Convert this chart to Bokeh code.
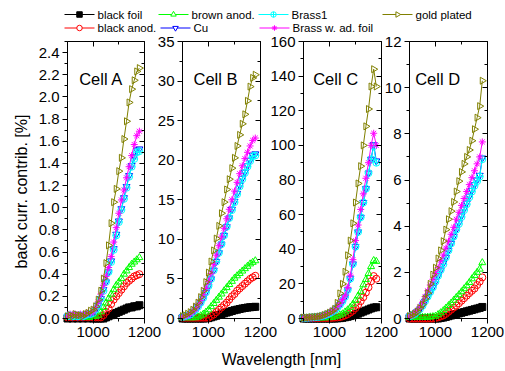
import numpy as np
from bokeh.plotting import figure
from bokeh.models import Range1d, LinearAxis, FixedTicker, Label, NumeralTickFormatter
from bokeh.embed import file_html
from bokeh.resources import INLINE
from bokeh.core.properties import value

# ---------------- data ----------------
wavelength = [900, 910, 920, 930, 940, 950, 960, 970, 980, 990, 1000, 1010, 1020, 1030, 1040,
              1050, 1060, 1070, 1080, 1090, 1100, 1110, 1120, 1130, 1140, 1150, 1160, 1170, 1180]

series_names = ["black foil", "black anod.", "brown anod.", "Cu", "Brass1", "Brass w. ad. foil", "gold plated"]
series_colors = ["#000000", "#FF0000", "#00FF00", "#0000FF", "#00FFFF", "#FF00FF", "#808000"]
series_markers = ["square", "circle", "triangle", "inverted_triangle", "circle_cross", "asterisk", "triangle"]
series_filled = [True, False, False, False, False, False, False]

cell_names = ["Cell A", "Cell B", "Cell C", "Cell D"]
y_top = [2.5, 35, 160, 12]
y_step_major = [0.2, 5, 20, 2]
y_formats = ["0.0", "0", "0", "0"]
x_major_ticks = [1000, 1200]
x_minor_ticks = [900, 1100]

# Cell A
a_black_foil = [0.00, 0.01, 0.00, 0.01, 0.00, 0.01, 0.00, 0.01, 0.00, 0.01, 0.00, 0.00, 0.00, 0.00, 0.00,
                0.01, 0.02, 0.03, 0.04, 0.05, 0.06, 0.07, 0.08, 0.09, 0.10, 0.10, 0.11, 0.11, 0.12]
a_black_anod = [0.01, 0.02, 0.01, 0.02, 0.01, 0.02, 0.01, 0.02, 0.01, 0.02, 0.01, 0.01, 0.01, 0.01, 0.03,
                0.06, 0.09, 0.13, 0.17, 0.20, 0.23, 0.26, 0.29, 0.32, 0.34, 0.36, 0.38, 0.39, 0.40]
a_brown_anod = [0.02, 0.01, 0.02, 0.01, 0.02, 0.01, 0.02, 0.01, 0.02, 0.01, 0.02, 0.02, 0.03, 0.06, 0.10,
                0.14, 0.18, 0.22, 0.26, 0.30, 0.33, 0.36, 0.40, 0.43, 0.46, 0.49, 0.51, 0.53, 0.55]
a_cu = [0.02, 0.03, 0.02, 0.03, 0.02, 0.03, 0.02, 0.03, 0.04, 0.04, 0.05, 0.08, 0.12, 0.18, 0.26,
        0.33, 0.42, 0.52, 0.63, 0.76, 0.88, 0.99, 1.09, 1.19, 1.29, 1.38, 1.46, 1.52, 1.53]
a_brass1 = [0.02, 0.03, 0.02, 0.03, 0.02, 0.03, 0.02, 0.03, 0.04, 0.04, 0.05, 0.08, 0.12, 0.18, 0.25,
            0.33, 0.42, 0.51, 0.62, 0.75, 0.87, 0.98, 1.08, 1.18, 1.28, 1.37, 1.44, 1.50, 1.51]
a_brass_foil = [0.02, 0.04, 0.03, 0.04, 0.03, 0.04, 0.03, 0.04, 0.05, 0.05, 0.06, 0.10, 0.15, 0.22, 0.30,
                0.38, 0.46, 0.56, 0.69, 0.82, 0.95, 1.07, 1.16, 1.27, 1.37, 1.47, 1.57, 1.65, 1.69]
a_gold = [0.02, 0.03, 0.02, 0.04, 0.03, 0.03, 0.02, 0.04, 0.05, 0.07, 0.08, 0.11, 0.17, 0.25, 0.36,
          0.50, 0.66, 0.86, 1.05, 1.17, 1.33, 1.45, 1.62, 1.78, 1.95, 2.07, 2.15, 2.23, 2.26]

# Cell B
b_black_foil = [0.0, 0.0, 0.0, 0.0, 0.0, 0.0, 0.0, 0.0, 0.0, 0.02, 0.05, 0.15, 0.25, 0.35, 0.45,
                0.55, 0.65, 0.75, 0.85, 0.95, 1.05, 1.12, 1.20, 1.27, 1.33, 1.38, 1.42, 1.45, 1.48]
b_black_anod = [0.1, 0.1, 0.1, 0.1, 0.1, 0.1, 0.1, 0.1, 0.1, 0.1, 0.1, 0.3, 0.5, 0.8, 1.1,
                1.4, 1.7, 2.0, 2.4, 2.8, 3.1, 3.5, 3.8, 4.1, 4.4, 4.7, 5.0, 5.2, 5.4]
b_brown_anod = [0.1, 0.1, 0.1, 0.1, 0.1, 0.1, 0.2, 0.35, 0.55, 0.8, 1.1, 1.5, 1.9, 2.3, 2.7,
                3.1, 3.5, 3.9, 4.3, 4.7, 5.1, 5.4, 5.7, 6.0, 6.3, 6.6, 6.9, 7.1, 7.3]
b_cu = [0.2, 0.3, 0.4, 0.5, 0.8, 1.1, 1.5, 2.0, 2.6, 3.3, 4.1, 5.0, 6.1, 7.2, 8.3,
        9.4, 10.5, 11.6, 12.7, 13.8, 14.8, 15.8, 16.8, 17.7, 18.5, 19.3, 20.0, 20.6, 20.8]
b_brass1 = [0.2, 0.3, 0.4, 0.5, 0.8, 1.1, 1.5, 2.0, 2.6, 3.3, 4.1, 5.0, 6.1, 7.2, 8.3,
            9.4, 10.5, 11.6, 12.7, 13.7, 14.7, 15.7, 16.7, 17.6, 18.4, 19.2, 19.9, 20.5, 20.6]
b_brass_foil = [0.2, 0.3, 0.4, 0.6, 0.9, 1.2, 1.7, 2.3, 3.0, 3.8, 4.7, 5.7, 6.8, 8.0, 9.2,
                10.3, 11.4, 12.6, 13.8, 15.0, 16.1, 17.2, 18.3, 19.3, 20.2, 21.0, 21.8, 22.5, 22.8]
b_gold = [0.3, 0.4, 0.6, 0.8, 1.1, 1.5, 2.0, 2.7, 3.5, 4.6, 5.8, 7.2, 8.6, 10.1, 11.7,
          13.3, 14.7, 16.3, 17.6, 19.0, 20.3, 21.8, 23.2, 24.6, 25.8, 27.5, 29.3, 30.4, 30.8]

# Cell C
c_black_foil = [0.0, 0.0, 0.0, 0.0, 0.0, 0.0, 0.0, 0.0, 0.0, 0.0, 0.0, 0.0, 0.0, 0.1, 0.2,
                0.4, 0.7, 1.0, 1.4, 1.8, 2.3, 2.8, 3.4, 4.0, 4.6, 5.2, 5.8, 6.3, 6.5]
c_black_anod = [0.3, 0.3, 0.3, 0.3, 0.3, 0.3, 0.3, 0.3, 0.3, 0.3, 0.3, 0.4, 0.5, 0.6, 0.8,
                1.2, 1.8, 2.5, 3.4, 4.5, 6.0, 7.8, 10.0, 12.3, 15.0, 18.0, 21.5, 24.5, 23.0]
c_brown_anod = [0.3, 0.3, 0.3, 0.3, 0.3, 0.3, 0.3, 0.4, 0.4, 0.5, 0.5, 0.7, 1.0, 1.5, 2.0,
                2.7, 3.8, 5.0, 6.5, 8.3, 10.5, 13.0, 15.5, 19.5, 22.5, 26.0, 30.0, 33.5, 33.0]
c_cu = [0.3, 0.4, 0.5, 0.6, 0.7, 0.9, 1.1, 1.4, 1.8, 2.3, 3.0, 3.8, 4.8, 6.2, 7.9,
        10.0, 12.5, 16.5, 23.0, 31.5, 41.5, 50.0, 58.5, 67.0, 75.0, 84.0, 92.0, 100.5, 91.0]
c_brass1 = [0.3, 0.4, 0.5, 0.6, 0.7, 0.9, 1.1, 1.4, 1.8, 2.3, 3.0, 3.8, 4.8, 6.2, 7.9,
            10.0, 12.5, 16.5, 23.0, 31.5, 41.5, 50.0, 58.5, 67.0, 75.0, 84.0, 92.0, 99.5, 90.0]
c_brass_foil = [0.4, 0.5, 0.6, 0.7, 0.8, 1.0, 1.2, 1.5, 2.0, 2.6, 3.3, 4.2, 5.3, 6.8, 8.6,
                11.0, 13.5, 18.0, 25.0, 34.0, 45.0, 54.0, 63.0, 72.0, 81.0, 90.0, 100.0, 107.0, 100.0]
c_gold = [0.5, 0.5, 0.6, 0.8, 0.9, 1.0, 1.2, 1.5, 2.0, 2.6, 3.3, 4.2, 5.5, 9.0, 14.5,
          20.0, 27.0, 36.5, 45.0, 55.0, 67.0, 78.0, 88.0, 100.0, 111.0, 121.0, 134.0, 144.0, 134.0]

# Cell D
d_black_foil = [0.0, 0.0, 0.0, 0.0, 0.0, 0.0, 0.0, 0.0, 0.0, 0.0, 0.0, 0.0, 0.02, 0.04, 0.07,
                0.10, 0.13, 0.16, 0.19, 0.22, 0.25, 0.28, 0.31, 0.34, 0.37, 0.40, 0.43, 0.46, 0.50]
d_black_anod = [0.0, 0.0, 0.0, 0.0, 0.0, 0.0, 0.0, 0.0, 0.0, 0.0, 0.02, 0.05, 0.09, 0.13, 0.20,
                0.29, 0.38, 0.47, 0.56, 0.66, 0.77, 0.88, 0.99, 1.10, 1.20, 1.30, 1.45, 1.60, 1.78]
d_brown_anod = [0.05, 0.05, 0.05, 0.05, 0.05, 0.05, 0.05, 0.06, 0.07, 0.08, 0.10, 0.17, 0.25, 0.34, 0.45,
                0.56, 0.67, 0.79, 0.91, 1.03, 1.16, 1.29, 1.42, 1.56, 1.72, 1.86, 2.00, 2.14, 2.42]
d_cu = [0.1, 0.15, 0.2, 0.3, 0.4, 0.55, 0.75, 0.95, 1.15, 1.35, 1.6, 1.85, 2.1, 2.4, 2.65,
        2.95, 3.25, 3.55, 3.85, 4.15, 4.45, 4.75, 5.0, 5.3, 5.55, 5.8, 6.0, 6.2, 6.95]
d_brass1 = [0.1, 0.15, 0.2, 0.3, 0.4, 0.55, 0.75, 0.95, 1.15, 1.35, 1.6, 1.85, 2.1, 2.35, 2.65,
            2.95, 3.25, 3.55, 3.85, 4.1, 4.4, 4.7, 4.95, 5.25, 5.5, 5.75, 5.95, 6.15, 6.9]
d_brass_foil = [0.1, 0.15, 0.25, 0.35, 0.5, 0.7, 0.95, 1.2, 1.45, 1.7, 1.95, 2.2, 2.5, 2.75, 3.05,
                3.35, 3.65, 3.95, 4.3, 4.6, 4.9, 5.2, 5.5, 5.8, 6.1, 6.4, 6.7, 7.0, 7.65]
d_gold = [0.1, 0.15, 0.2, 0.3, 0.45, 0.6, 0.85, 1.1, 1.5, 1.9, 2.2, 2.6, 2.95, 3.35, 3.85,
          4.3, 4.65, 5.05, 5.5, 5.95, 6.35, 6.7, 7.0, 7.3, 7.7, 8.2, 8.7, 9.2, 10.3]

cell_data = [
    [a_black_foil, a_black_anod, a_brown_anod, a_cu, a_brass1, a_brass_foil, a_gold],
    [b_black_foil, b_black_anod, b_brown_anod, b_cu, b_brass1, b_brass_foil, b_gold],
    [c_black_foil, c_black_anod, c_brown_anod, c_cu, c_brass1, c_brass_foil, c_gold],
    [d_black_foil, d_black_anod, d_brown_anod, d_cu, d_brass1, d_brass_foil, d_gold],
]

# ---------------- layout (pixels) ----------------
W, H = 505, 371
FONT = "Liberation Sans"
frame_left = [67, 182, 303, 409]
frame_right = [144, 260, 381, 487]
frame_top, frame_bottom = 41, 318
label_fx = [0.152, 0.141, 0.124, 0.073]
label_fy = 0.863

p = figure(width=W, height=H, output_backend="svg", toolbar_location=None,
           x_range=Range1d(0, W), y_range=Range1d(0, H),
           x_axis_location=None, y_axis_location=None, min_border=0,
           outline_line_color=None, background_fill_color="white", border_fill_color="white")
p.grid.visible = False


def marker_angle(i):
    return -np.pi / 2 if series_names[i] == "gold plated" else 0.0


for k, cell in enumerate(cell_names):
    L, R = frame_left[k], frame_right[k]
    sx = 300.0 / (R - L)
    xs = 900 - L * sx
    xn, yn = f"x{k}", f"y{k}"
    p.extra_x_ranges[xn] = Range1d(xs, xs + W * sx)
    su = y_top[k] / (frame_bottom - frame_top)
    ys = -(H - frame_bottom) * su
    p.extra_y_ranges[yn] = Range1d(ys, ys + H * su)

    # frame box
    p.quad(left=[900], right=[1200], bottom=[0], top=[y_top[k]], fill_color=None,
           line_color="black", line_width=1, x_range_name=xn, y_range_name=yn)

    step = y_step_major[k]
    nmaj = int(round(y_top[k] / step))
    majors = [round(j * step, 4) for j in range(nmaj + 1) if j * step <= y_top[k] + 1e-9]
    minors = [round(j * step / 2, 4) for j in range(2 * nmaj + 2) if j * step / 2 <= y_top[k] + 1e-9]

    ax_l = LinearAxis(x_range_name=xn, y_range_name=yn, fixed_location=900,
                      ticker=FixedTicker(ticks=majors, minor_ticks=minors),
                      formatter=NumeralTickFormatter(format=y_formats[k]),
                      axis_line_color=None, major_tick_out=5, major_tick_in=0,
                      minor_tick_out=3, minor_tick_in=0, major_label_standoff=3,
                      major_label_text_font=FONT, major_label_text_font_size="15px",
                      major_label_text_color="black")
    p.add_layout(ax_l, "left")
    ax_r = LinearAxis(x_range_name=xn, y_range_name=yn, fixed_location=1200,
                      ticker=FixedTicker(ticks=majors, minor_ticks=minors),
                      major_label_overrides={t: "" for t in majors},
                      axis_line_color=None, major_tick_out=0, major_tick_in=5,
                      minor_tick_out=0, minor_tick_in=3)
    p.add_layout(ax_r, "right")
    ax_b = LinearAxis(x_range_name=xn, y_range_name=yn, fixed_location=0,
                      ticker=FixedTicker(ticks=x_major_ticks, minor_ticks=x_minor_ticks),
                      axis_line_color=None, major_tick_out=5, major_tick_in=0,
                      minor_tick_out=3, minor_tick_in=0, major_label_standoff=3,
                      major_label_text_font=FONT, major_label_text_font_size="15px",
                      major_label_text_color="black")
    p.add_layout(ax_b, "below")
    ax_t = LinearAxis(x_range_name=xn, y_range_name=yn, fixed_location=y_top[k],
                      ticker=FixedTicker(ticks=x_major_ticks, minor_ticks=x_minor_ticks),
                      major_label_overrides={t: "" for t in x_major_ticks},
                      axis_line_color=None, major_tick_out=0, major_tick_in=5,
                      minor_tick_out=0, minor_tick_in=3)
    p.add_layout(ax_t, "above")

    for i, name in enumerate(series_names):
        vals = cell_data[k][i]
        col = series_colors[i]
        p.line(wavelength, vals, line_color=col, line_width=1, x_range_name=xn, y_range_name=yn)
        p.scatter(wavelength, vals, marker=series_markers[i], size=7,
                  line_color=col, fill_color=col if series_filled[i] else None,
                  line_width=1, angle=marker_angle(i),
                  x_range_name=xn, y_range_name=yn)

    p.text(x=[900 + 300 * label_fx[k]], y=[y_top[k] * label_fy], text=[cell],
           text_font=value(FONT), text_font_size="16.5px", text_color="black",
           text_baseline="middle", text_align="left", x_range_name=xn, y_range_name=yn)

# ---------------- legend (screen coordinates) ----------------
leg_x = [64, 64, 158, 160, 258, 259, 382]
leg_row_y = [H - 14, H - 27.5, H - 14, H - 27.5, H - 14, H - 27.5, H - 14]
for i, name in enumerate(series_names):
    x0, y0 = leg_x[i], leg_row_y[i]
    col = series_colors[i]
    p.segment(x0=[x0], y0=[y0], x1=[x0 + 30], y1=[y0], line_color=col, line_width=1)
    p.scatter([x0 + 15], [y0], marker=series_markers[i], size=5.5, line_color=col,
              fill_color=col if series_filled[i] else "white", line_width=1,
              angle=marker_angle(i))
    p.text(x=[x0 + 33], y=[y0], text=[name], text_font=value(FONT), text_font_size="11.5px",
           text_color="black", text_baseline="middle", text_align="left")

p.add_layout(Label(x=20.5, y=H - 191, x_units="screen", y_units="screen",
                   text="back curr. contrib. [%]", angle=90, angle_units="deg",
                   text_align="center", text_baseline="middle", text_font=FONT,
                   text_font_size="16px", text_color="black"))
p.add_layout(Label(x=281, y=H - 359, x_units="screen", y_units="screen",
                   text="Wavelength [nm]", text_align="center", text_baseline="middle",
                   text_font=FONT, text_font_size="16px", text_color="black"))

open("out.html", "w").write(file_html(p, INLINE))
